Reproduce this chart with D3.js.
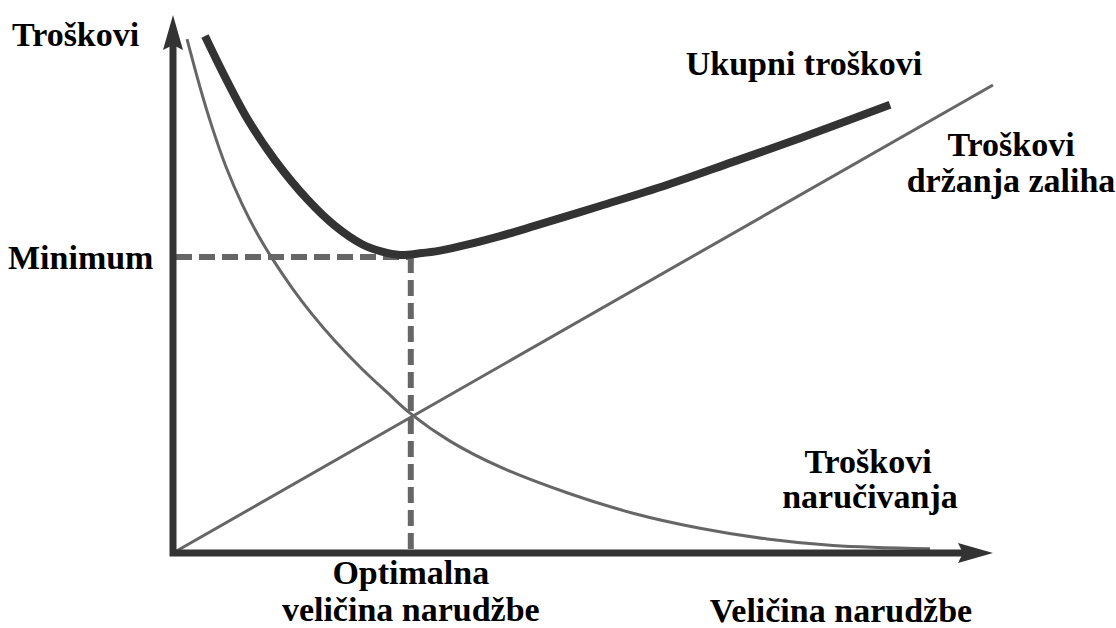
<!DOCTYPE html>
<html>
<head>
<meta charset="utf-8">
<script src="https://cdnjs.cloudflare.com/ajax/libs/d3/7.8.5/d3.min.js"></script>
<style>
  body { margin: 0; background: #fff; }
  text { font-family: "Liberation Serif", "Times New Roman", serif; font-weight: bold; fill: #000; }
</style>
</head>
<body>
<svg id="chart" width="1116" height="628"></svg>
<script>
// values (x = velicina narudzbe, y = troskovi, both 0..100)
var holdingCost = [[0, 0], [100, 87]];

var orderingCost = [
  [1.71, 95.5], [3.29, 86.6], [4.76, 79.2], [6.46, 71.8], [8.41, 64.9], [10.37, 59.1],
  [12.07, 54.8], [14.51, 49.3], [16.95, 44.4], [19.76, 39.4], [23.05, 34.2], [26.22, 29.7],
  [28.90, 26.0], [33.78, 20.8], [39.88, 16.0], [48.05, 11.2], [56.10, 7.4], [64.27, 4.6],
  [72.44, 2.6], [80.49, 1.4], [92.32, 0.8]
];

var totalCost = [
  [3.90, 96.1], [6.34, 88.5], [9.15, 80.5], [12.44, 73.0], [16.46, 65.6], [19.76, 60.8],
  [23.05, 57.4], [25.49, 56.0], [27.68, 55.4], [30.12, 55.7], [32.56, 56.2], [35.85, 57.3],
  [39.88, 58.9], [43.90, 60.7], [52.07, 64.5], [60.24, 68.4], [68.29, 72.7], [76.46, 77.1],
  [87.44, 83.3]
];

var optimum = { q: 29.0, cost: 55.0 };

var labels = {
  yAxis: "Troškovi",
  xAxis: "Veličina narudžbe",
  minimum: "Minimum",
  optimal: ["Optimalna", "veličina narudžbe"],
  total: "Ukupni troškovi",
  holding: ["Troškovi", "držanja zaliha"],
  ordering: ["Troškovi", "naručivanja"]
};

var svg = d3.select("#chart"),
    width = +svg.attr("width"),
    height = +svg.attr("height");

var x = d3.scaleLinear().domain([0, 100]).range([173, 993]);
var y = d3.scaleLinear().domain([0, 100]).range([553, 15]);

var line = d3.line()
    .x(function(d) { return x(d[0]); })
    .y(function(d) { return y(d[1]); })
    .curve(d3.curveCatmullRom.alpha(0.5));

svg.append("rect").attr("width", width).attr("height", height).attr("fill", "#fff");

// holding cost (straight line)
svg.append("path")
    .datum(holdingCost)
    .attr("d", d3.line().x(function(d) { return x(d[0]); }).y(function(d) { return y(d[1]); }))
    .attr("fill", "none")
    .attr("stroke", "#666")
    .attr("stroke-width", 3);

// ordering cost
svg.append("path")
    .datum(orderingCost)
    .attr("d", line)
    .attr("fill", "none")
    .attr("stroke", "#666")
    .attr("stroke-width", 3);

// dashed guides to the minimum
var guides = svg.append("g")
    .attr("stroke", "#666")
    .attr("stroke-width", 6)
    .attr("stroke-dasharray", "16,7");

guides.append("line")
    .attr("x1", x(0) + 3).attr("y1", y(optimum.cost))
    .attr("x2", x(optimum.q)).attr("y2", y(optimum.cost));

guides.append("line")
    .attr("x1", x(optimum.q)).attr("y1", y(optimum.cost))
    .attr("x2", x(optimum.q)).attr("y2", y(0) - 3);

// total cost
svg.append("path")
    .datum(totalCost)
    .attr("d", line)
    .attr("fill", "none")
    .attr("stroke", "#333")
    .attr("stroke-width", 8);

// axes with arrows
var x0 = x(0), y0 = y(0), xEnd = x.range()[1], yEnd = y.range()[1];
svg.append("path")
    .attr("d", "M" + x0 + "," + (yEnd + 30) + "L" + x0 + "," + y0 + "L" + (xEnd - 30) + "," + y0)
    .attr("fill", "none")
    .attr("stroke", "#333")
    .attr("stroke-width", 7)
    .attr("stroke-linejoin", "miter")
    .attr("stroke-linecap", "square");

svg.append("path")
    .attr("d", "M" + x0 + "," + yEnd + "L" + (x0 + 10) + "," + (yEnd + 35) +
               "L" + x0 + "," + (yEnd + 30) + "L" + (x0 - 10) + "," + (yEnd + 35) + "Z")
    .attr("fill", "#333");

svg.append("path")
    .attr("d", "M" + xEnd + "," + y0 + "L" + (xEnd - 35) + "," + (y0 - 10) +
               "L" + (xEnd - 30) + "," + y0 + "L" + (xEnd - 35) + "," + (y0 + 10) + "Z")
    .attr("fill", "#333");

// texts
function label(txt, px, py, anchor) {
  svg.append("text")
      .attr("x", px).attr("y", py)
      .attr("text-anchor", anchor || "middle")
      .style("font-size", "34px")
      .text(txt);
}

label(labels.yAxis, 12, 46, "start");
label(labels.minimum, 8, 269, "start");
label(labels.total, 804, 75);
label(labels.holding[0], 1011, 156);
label(labels.holding[1], 1011, 192);
label(labels.ordering[0], 868, 473);
label(labels.ordering[1], 870, 508);
label(labels.optimal[0], x(optimum.q), 584);
label(labels.optimal[1], x(optimum.q), 621);
label(labels.xAxis, 841, 622);
</script>
</body>
</html>
